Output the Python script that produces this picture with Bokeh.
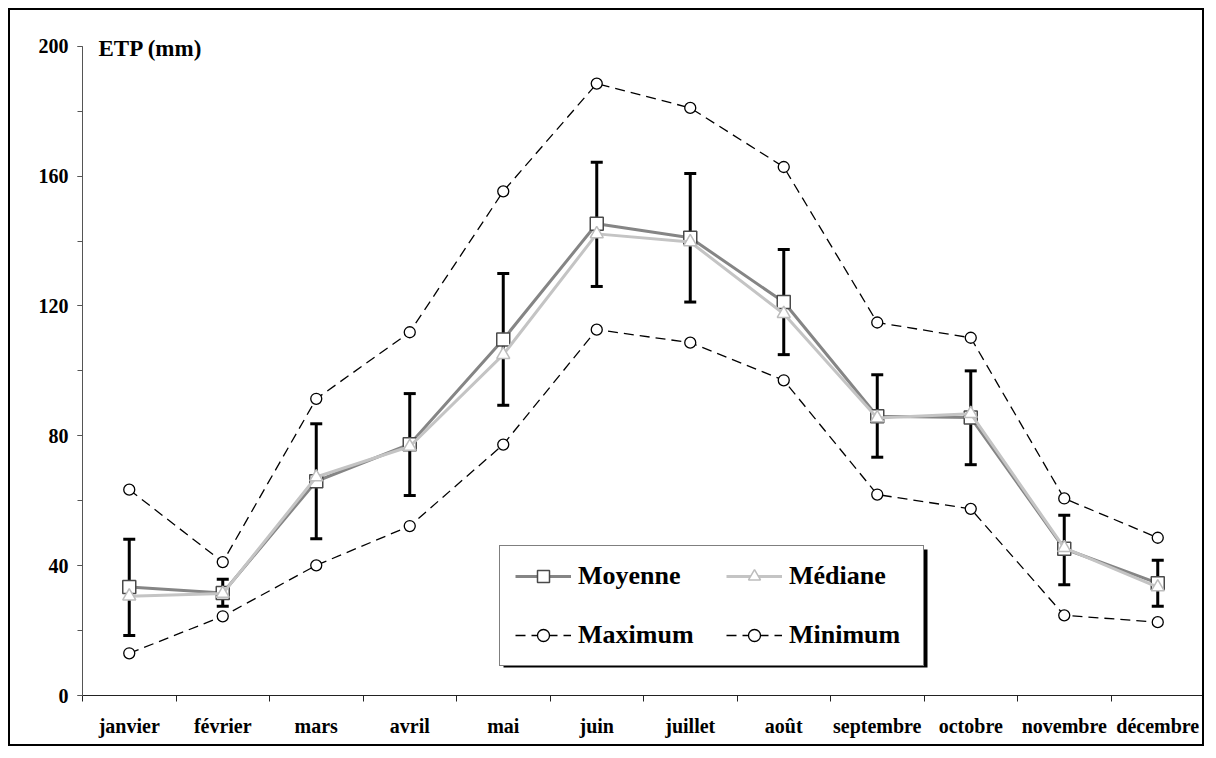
import numpy as np
from bokeh.plotting import figure
from bokeh.models import (ColumnDataSource, Range1d, FixedTicker, CustomJSTickFormatter,
                          Whisker, TeeHead, Legend, LegendItem, Label, BoxAnnotation)
from bokeh.embed import file_html
from bokeh.resources import INLINE

mois = ["janvier", "février", "mars", "avril", "mai", "juin", "juillet",
        "août", "septembre", "octobre", "novembre", "décembre"]
moyenne = [33.4, 31.6, 66.0, 77.4, 109.7, 145.3, 141.0, 121.2, 86.0, 85.6, 45.2, 34.6]
mediane = [30.6, 31.4, 67.3, 76.7, 105.0, 142.2, 139.7, 117.6, 85.5, 86.8, 45.5, 33.4]
maximum = [63.4, 41.1, 91.4, 111.9, 155.3, 188.5, 181.0, 162.8, 114.9, 110.2, 60.7, 48.6]
minimum = [13.0, 24.4, 40.1, 52.2, 77.3, 112.7, 108.7, 97.1, 61.9, 57.5, 24.7, 22.6]
err_haut = [48.1, 35.8, 83.7, 93.0, 130.0, 164.3, 160.8, 137.4, 98.8, 100.0, 55.5, 41.7]
err_bas = [18.5, 27.5, 48.3, 61.6, 89.4, 126.0, 121.2, 105.0, 73.4, 71.1, 34.1, 27.5]
y_ticks = [0, 40, 80, 120, 160, 200]
y_minor = [0, 20, 40, 60, 80, 100, 120, 140, 160, 180, 200]

x = np.arange(len(mois)) + 0.5
src = ColumnDataSource(dict(x=x, moy=moyenne, med=mediane, mx=maximum, mn=minimum,
                            hi=err_haut, lo=err_bas))

FONT = "Liberation Serif"

p = figure(width=1196, height=738, output_backend="svg", toolbar_location=None,
           x_range=Range1d(0, len(mois)), y_range=Range1d(0, 203),
           min_border_left=72, min_border_right=2, min_border_top=26, min_border_bottom=53)
p.styles = {"border": "2px solid black", "margin": "8px"}
p.outline_line_color = None
p.background_fill_color = "white"
p.border_fill_color = "white"
p.xgrid.visible = False
p.ygrid.visible = False

# axes
xa = p.xaxis[0]
xa.ticker = FixedTicker(ticks=list(x), minor_ticks=list(range(len(mois) + 1)))
xa.formatter = CustomJSTickFormatter(args=dict(labels=mois),
                                     code="return labels[Math.floor(tick)] || '';")
xa.major_tick_out = 0
xa.major_tick_in = 0
xa.minor_tick_out = 6
xa.minor_tick_in = 0
xa.minor_tick_line_color = "#222222"
xa.axis_line_color = "#222222"
xa.major_label_text_font = FONT
xa.major_label_text_font_style = "bold"
xa.major_label_text_font_size = "20px"
xa.major_label_text_color = "black"
xa.major_label_standoff = 13

ya = p.yaxis[0]
ya.ticker = FixedTicker(ticks=y_ticks, minor_ticks=y_minor)
ya.bounds = (0, 200)
ya.major_tick_out = 5
ya.major_tick_in = 0
ya.minor_tick_out = 5
ya.minor_tick_in = 0
ya.axis_line_color = "#555555"
ya.major_tick_line_color = "#555555"
ya.minor_tick_line_color = "#555555"
ya.major_label_text_font = FONT
ya.major_label_text_font_style = "bold"
ya.major_label_text_font_size = "20px"
ya.major_label_text_color = "black"
ya.major_label_standoff = 9

# error bars
wh = Whisker(base="x", upper="hi", lower="lo", source=src, line_width=3, line_color="black",
             upper_head=TeeHead(size=12, line_width=3, line_color="black"),
             lower_head=TeeHead(size=12, line_width=3, line_color="black"))
p.add_layout(wh)

# max / min
mx_l = p.line("x", "mx", source=src, line_color="black", line_width=1.3, line_dash="10 6")
mx_m = p.scatter("x", "mx", source=src, marker="circle", size=11, fill_color="white",
                 line_color="black", line_width=1.3)
mn_l = p.line("x", "mn", source=src, line_color="black", line_width=1.3, line_dash="10 6")
mn_m = p.scatter("x", "mn", source=src, marker="circle", size=11, fill_color="white",
                 line_color="black", line_width=1.3)

# mean / median
moy_l = p.line("x", "moy", source=src, line_color="#858585", line_width=3)
moy_m = p.scatter("x", "moy", source=src, marker="square", size=13, fill_color="white",
                  line_color="#4a4a4a", line_width=1.5)
med_l = p.line("x", "med", source=src, line_color="#c4c4c4", line_width=3)
med_m = p.scatter("x", "med", source=src, marker="triangle", size=13, fill_color="white",
                  line_color="#bdbdbd", line_width=1.5)

# legend shadow
shadow = BoxAnnotation(left=421, right=845, bottom=28, top=146,
                       left_units="screen", right_units="screen",
                       bottom_units="screen", top_units="screen",
                       fill_color="black", fill_alpha=1.0, line_color=None)
p.add_layout(shadow)

legend = Legend(items=[
    LegendItem(label="Moyenne", renderers=[moy_l, moy_m]),
    LegendItem(label="Médiane", renderers=[med_l, med_m]),
    LegendItem(label="Maximum", renderers=[mx_l, mx_m]),
    LegendItem(label="Minimum", renderers=[mn_l, mn_m]),
], location=(417, 29), orientation="horizontal", ncols=2)
legend.label_text_font = FONT
legend.label_text_font_style = "bold"
legend.label_text_font_size = "26px"
legend.label_text_color = "black"
legend.glyph_width = 56
legend.glyph_height = 30
legend.label_standoff = 7
legend.label_width = 119
legend.label_height = 30
legend.spacing = 29
legend.padding = 15
legend.margin = 0
legend.border_line_color = "black"
legend.border_line_width = 1.5
legend.background_fill_color = "white"
legend.background_fill_alpha = 1.0
p.add_layout(legend, "center")

title = Label(x=16, y=647, x_units="screen", y_units="screen", text="ETP (mm)",
              text_font=FONT, text_font_style="bold", text_font_size="23px",
              text_baseline="middle", text_align="left", text_color="black")
p.add_layout(title)

open("out.html", "w").write(file_html(p, INLINE))
